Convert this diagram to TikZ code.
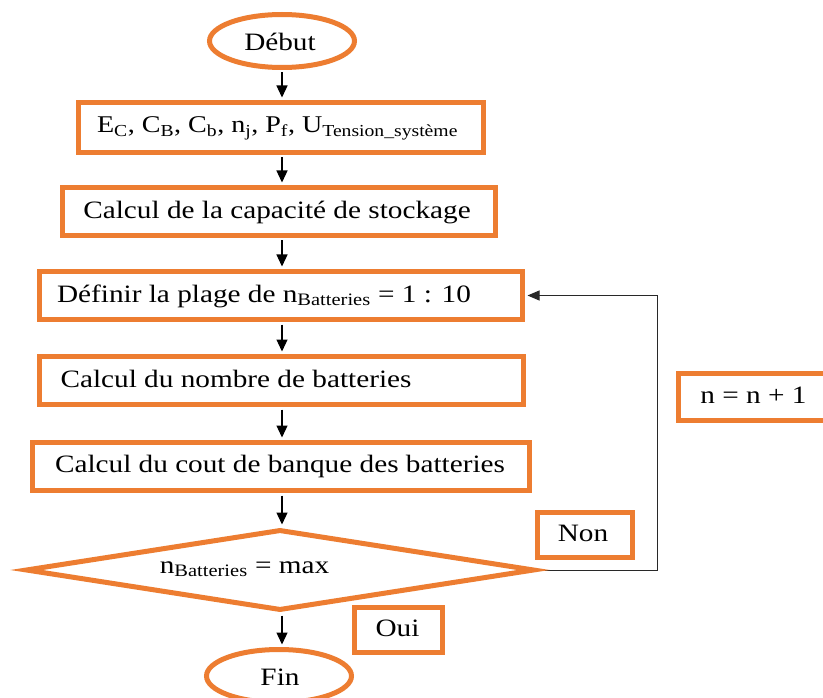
\documentclass[tikz,border=0pt]{standalone}
\usepackage{fontspec}
\setmainfont{Liberation Serif}[FakeStretch=1.17]
\usetikzlibrary{arrows.meta,shapes.geometric}
\definecolor{flowOrange}{RGB}{237,125,49}
\definecolor{loopGray}{RGB}{40,40,40}

\begin{document}
\begin{tikzpicture}[x=1pt,y=-1pt,
  outline/.style={draw=flowOrange,line width=5pt,inner sep=0pt,fill=white},
  stepbox/.style={outline,rectangle},
  term/.style={outline,ellipse,minimum width=145pt,minimum height=53pt},
  decision/.style={outline,diamond},
  lbl/.style={anchor=base,inner sep=0pt,font=\fontsize{25}{29}\selectfont},
  arr/.style={draw=black,line width=1.3pt,shorten >=2.5pt,shorten <=2.5pt,
    -{Triangle[length=12pt,width=11pt]}},
  looparr/.style={draw=loopGray,line width=1pt,shorten >=2.5pt,
    -{Triangle[length=12pt,width=10pt]}}]

\useasboundingbox[fill=white] (0,0) rectangle (823,698);

% ends of the loop connector
\coordinate (loopstart) at (533,570);
\coordinate (loopcorner) at (657,570);

% shapes
\node[term] (debut) at (282,41) {};
\node[stepbox,minimum width=405pt,minimum height=50pt] (b1) at (280.5,127.5) {};
\node[stepbox,minimum width=433pt,minimum height=48pt] (b2) at (279,211.5) {};
\node[stepbox,minimum width=483pt,minimum height=48pt] (b3) at (281,295.5) {};
\node[stepbox,minimum width=484pt,minimum height=48pt] (b4) at (281.5,380.5) {};
\node[stepbox,minimum width=497pt,minimum height=48pt] (b5) at (281,466.5) {};
\node[stepbox,minimum width=151pt,minimum height=47pt] (incr) at (754,397) {};
\node[stepbox,minimum width=95pt,minimum height=45pt] (non) at (585,535) {};
\node[stepbox,minimum width=88pt,minimum height=45pt] (oui) at (398.5,630) {};
\node[term] (fin) at (279,676) {};

% loop back, drawn before the diamond so the diamond covers its start
\draw[looparr] (loopstart) -- (loopcorner) |- (b3.east);
\node[decision,minimum width=509pt,minimum height=81pt] (dec) at (280,570) {};

% texts
\node[lbl] (tdebut) at (280,50.5) {Début};
\node[lbl,font=\fontsize{24}{28}\selectfont] (t1) at (277.5,133) {E\textsubscript{C}, C\textsubscript{B}, C\textsubscript{b}, n\textsubscript{j}, P\textsubscript{f}, U\textsubscript{Tension\_système}};
\node[lbl] (t2) at (277,219) {Calcul de la capacité de stockage};
\node[lbl] (t3) at (264,302) {Définir la plage de n\textsubscript{Batteries} = 1 : 10};
\node[lbl] (t4) at (236,387) {Calcul du nombre de batteries};
\node[lbl] (t5) at (280,472) {Calcul du cout de banque des batteries};
\node[lbl] (tdec) at (244.5,573) {n\textsubscript{Batteries} = max};
\node[lbl] (tnon) at (583,541.7) {Non};
\node[lbl] (toui) at (397.5,636.7) {Oui};
\node[lbl] (tincr) at (753.5,403) {n = n + 1};
\node[lbl] (tfin) at (280,685) {Fin};

% connectors
\draw[arr] (debut.south) -- (debut.south |- b1.north);
\draw[arr] (b1.south -| debut.south) -- (b2.north -| debut.south);
\draw[arr] (b2.south -| debut.south) -- (b3.north -| debut.south);
\draw[arr] (b3.south -| debut.south) -- (b4.north -| debut.south);
\draw[arr] (b4.south -| debut.south) -- (b5.north -| debut.south);
\draw[arr] (b5.south -| debut.south) -- (dec.north -| debut.south);
\draw[arr] (dec.south -| debut.south) -- (fin.north -| debut.south);
\end{tikzpicture}
\end{document}
